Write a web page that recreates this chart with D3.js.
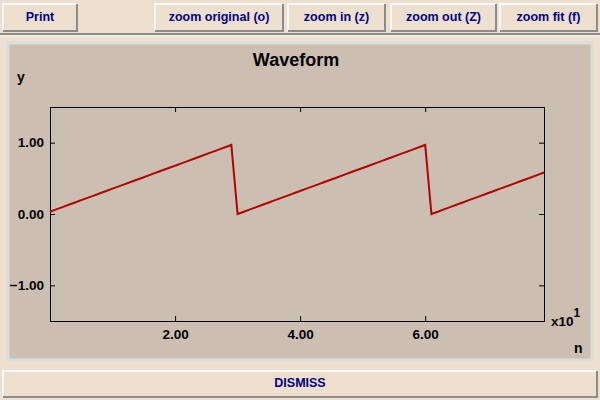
<!DOCTYPE html>
<html>
<head>
<meta charset="utf-8">
<script src="https://cdn.jsdelivr.net/npm/d3@7"></script>
<style>
  body { margin: 0; background: #eee0cf; }
  svg { display: block; font-family: "Liberation Sans", Arial, Helvetica, sans-serif; font-weight: bold; }
</style>
</head>
<body>
<div id="chart"></div>
<script>
// toolbar button labels
var topButtons = ["Print", "zoom original (o)", "zoom in (z)", "zoom out (Z)", "zoom fit (f)"];
var bottomButton = "DISMISS";

// sample index n and waveform value y
var samples = d3.range(0, 80);
var values = [
    0.032, 0.065, 0.097, 0.129, 0.161, 0.194, 0.226, 0.258, 0.290, 0.323,
    0.355, 0.387, 0.419, 0.452, 0.484, 0.516, 0.548, 0.581, 0.613, 0.645,
    0.677, 0.710, 0.742, 0.774, 0.806, 0.839, 0.871, 0.903, 0.935, 0.968,
    0.000,
    0.032, 0.065, 0.097, 0.129, 0.161, 0.194, 0.226, 0.258, 0.290, 0.323,
    0.355, 0.387, 0.419, 0.452, 0.484, 0.516, 0.548, 0.581, 0.613, 0.645,
    0.677, 0.710, 0.742, 0.774, 0.806, 0.839, 0.871, 0.903, 0.935, 0.968,
    0.000,
    0.032, 0.065, 0.097, 0.129, 0.161, 0.194, 0.226, 0.258, 0.290, 0.323,
    0.355, 0.387, 0.419, 0.452, 0.484, 0.516, 0.548, 0.581
];
var xTicks = [20, 40, 60];
var yTicks = [-1, 0, 1];

var W = 600, H = 400;
var svg = d3.select("#chart").append("svg")
    .attr("width", W)
    .attr("height", H);

// bevelled button
function button(g, x0, y0, x1, y1, label, baseline) {
    g.append("rect").attr("x", x0).attr("y", y0).attr("width", x1 - x0).attr("height", y1 - y0)
        .attr("fill", "#eee0cf");
    g.append("path").attr("d", "M" + x0 + "," + y1 + "V" + y0 + "H" + x1)
        .attr("fill", "none").attr("stroke", "#fafafa").attr("stroke-width", 2);
    g.append("path").attr("d", "M" + x0 + "," + y1 + "H" + x1 + "V" + y0)
        .attr("fill", "none").attr("stroke", "#8c8c8c").attr("stroke-width", 2);
    g.append("text")
        .attr("x", (x0 + x1) / 2).attr("y", baseline)
        .attr("text-anchor", "middle")
        .attr("fill", "#00008b")
        .style("font-size", "12.5px")
        .text(label);
}

// toolbar
var bar = svg.append("g");
bar.append("line").attr("x1", 0).attr("x2", W).attr("y1", 34).attr("y2", 34)
    .attr("stroke", "#8c8c8c").attr("stroke-width", 2);
bar.append("line").attr("x1", 0).attr("x2", W).attr("y1", 36).attr("y2", 36)
    .attr("stroke", "#fafafa").attr("stroke-width", 1);
var btnX = [[3, 77], [155, 283], [288, 385], [391, 496], [500, 597]];
topButtons.forEach(function (label, i) {
    button(bar, btnX[i][0], 4, btnX[i][1], 31, label, 21);
});
button(svg.append("g"), 3, 371, 597, 397, bottomButton, 387);

// plot panel
svg.append("rect")
    .attr("x", 8).attr("y", 43).attr("width", 584).attr("height", 317)
    .attr("fill", "#cbbfb1")
    .attr("stroke", "#dcdcdc").attr("stroke-width", 3);

var plotL = 50, plotR = 544, plotT = 107, plotB = 321;

var x = d3.scaleLinear().domain([0, 79]).range([plotL, plotR]);
var y = d3.scaleLinear().domain([-1.5, 1.5]).range([plotB, plotT]);

var fmt = function (d) { return (d < 0 ? "\u2212" : "") + Math.abs(d).toFixed(2); };

var axes = svg.append("g");

axes.append("g")
    .attr("transform", "translate(0," + plotB + ")")
    .call(d3.axisBottom(x).tickValues(xTicks).tickSize(-5).tickPadding(8)
        .tickFormat(function (d) { return (d / 10).toFixed(2); }));
axes.append("g")
    .attr("transform", "translate(0," + plotT + ")")
    .call(d3.axisTop(x).tickValues(xTicks).tickSize(-5).tickFormat(""));
axes.append("g")
    .attr("transform", "translate(" + plotL + ",0)")
    .call(d3.axisLeft(y).tickValues(yTicks).tickSize(-5).tickPadding(6).tickFormat(fmt));
axes.append("g")
    .attr("transform", "translate(" + plotR + ",0)")
    .call(d3.axisRight(y).tickValues(yTicks).tickSize(-5).tickFormat(""));

axes.selectAll("g").attr("font-family", null).attr("font-size", null);
axes.selectAll("text").attr("fill", "#000").style("font-size", "13.5px");
axes.selectAll(".tick line").attr("stroke", "#000");
axes.selectAll(".domain").remove();

svg.append("rect")
    .attr("x", plotL + 0.5).attr("y", plotT + 0.5).attr("width", plotR - plotL).attr("height", plotB - plotT)
    .attr("fill", "none").attr("stroke", "#000").attr("stroke-width", 1)
    .attr("shape-rendering", "crispEdges");

// waveform
var line = d3.line()
    .x(function (d, i) { return x(samples[i]); })
    .y(function (d) { return y(d); });

svg.append("path")
    .datum(values)
    .attr("d", line)
    .attr("fill", "none")
    .attr("stroke", "#b40000")
    .attr("stroke-width", 2);

// titles and labels
svg.append("text").attr("x", 296).attr("y", 66).attr("text-anchor", "middle")
    .style("font-size", "18px").text("Waveform");
svg.append("text").attr("x", 17).attr("y", 82).style("font-size", "14px").text("y");
svg.append("text").attr("x", 574).attr("y", 353).style("font-size", "14px").text("n");
var sc = svg.append("text").attr("x", 551).attr("y", 326).style("font-size", "13.5px");
sc.append("tspan").text("x10");
sc.append("tspan").attr("dy", -9).style("font-size", "12px").text("1");
</script>
</body>
</html>
